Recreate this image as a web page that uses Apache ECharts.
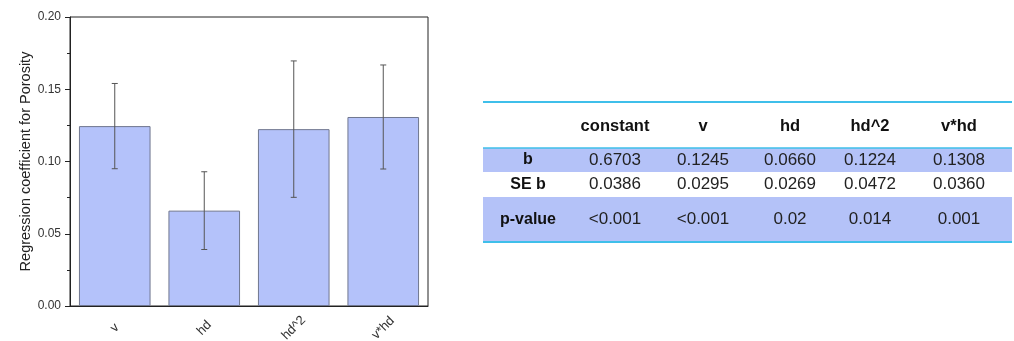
<!DOCTYPE html>
<html>
<head>
<meta charset="utf-8">
<script src="https://cdn.jsdelivr.net/npm/echarts@6/dist/echarts.min.js"></script>
<style>
  html, body { margin: 0; padding: 0; background: #fff; }
  #chart { width: 1014px; height: 341px; }
</style>
</head>
<body>
<div id="chart"></div>
<script>
// Regression terms and their coefficient statistics
const terms = ['constant', 'v', 'hd', 'hd^2', 'v*hd'];
const coefB = [0.6703, 0.1245, 0.0660, 0.1224, 0.1308];
const coefSE = [0.0386, 0.0295, 0.0269, 0.0472, 0.0360];
const pValues = ['<0.001', '<0.001', '0.02', '0.014', '0.001'];
const rowLabels = ['b', 'SE b', 'p-value'];
const yTicks = [0, 0.05, 0.10, 0.15, 0.20];

// The bar chart shows the non-constant terms
const barCats = terms.slice(1);
const barVals = coefB.slice(1);
const barErr = coefSE.slice(1);

const FONT = '"Liberation Sans", Arial, sans-serif';
const barFill = '#b4c2fa';
const bandFill = '#b4c2f8';
const ruleColor = '#3fbfea';

// ---- table layout ----
const tbl = {
  x0: 483, x1: 1012,
  top: 102, headY: 126, headBottom: 148,
  rows: [
    { y0: 148, y1: 172, fill: true },
    { y0: 172, y1: 197, fill: false },
    { y0: 197, y1: 242, fill: true }
  ],
  labelX: 528,
  colX: [615, 703, 790, 870, 959]
};

const tableCells = [coefB.map(v => v.toFixed(4)), coefSE.map(v => v.toFixed(4)), pValues];

const graphics = [];
tbl.rows.forEach(r => {
  if (r.fill) {
    graphics.push({ type: 'rect', silent: true, shape: { x: tbl.x0, y: r.y0, width: tbl.x1 - tbl.x0, height: r.y1 - r.y0 }, style: { fill: bandFill } });
  }
});
graphics.push({ type: 'line', shape: { x1: tbl.x0, y1: tbl.top, x2: tbl.x1, y2: tbl.top }, style: { stroke: ruleColor, lineWidth: 2 } });
graphics.push({ type: 'line', shape: { x1: tbl.x0, y1: tbl.headBottom, x2: tbl.x1, y2: tbl.headBottom }, style: { stroke: ruleColor, lineWidth: 1.5 } });
graphics.push({ type: 'line', shape: { x1: tbl.x0, y1: 242, x2: tbl.x1, y2: 242 }, style: { stroke: ruleColor, lineWidth: 2 } });
terms.forEach((t, i) => {
  graphics.push({ type: 'text', x: tbl.colX[i], y: tbl.headY, style: { text: t, font: 'bold 16.5px ' + FONT, fill: '#111', align: 'center', verticalAlign: 'middle' } });
});
rowLabels.forEach((lab, r) => {
  const row = tbl.rows[r];
  const cy = (row.y0 + row.y1) / 2;
  graphics.push({ type: 'text', x: tbl.labelX, y: cy, style: { text: lab, font: 'bold 16px ' + FONT, fill: '#111', align: 'center', verticalAlign: 'middle' } });
  tableCells[r].forEach((val, i) => {
    graphics.push({ type: 'text', x: tbl.colX[i], y: cy, style: { text: val, font: '17px ' + FONT, fill: '#222', align: 'center', verticalAlign: 'middle' } });
  });
});

const chart = echarts.init(document.getElementById('chart'), null, { renderer: 'canvas' });

chart.setOption({
  animation: false,
  backgroundColor: '#fff',
  grid: { left: 70, right: 586, top: 17, bottom: 35, outerBoundsMode: 'none', containLabel: false, show: true, borderColor: '#222', borderWidth: 1, backgroundColor: 'transparent' },
  xAxis: {
    type: 'category',
    data: barCats,
    axisLine: { lineStyle: { color: '#222', width: 1 } },
    axisTick: { alignWithLabel: true, length: 5, lineStyle: { color: '#222' } },
    axisLabel: { rotate: 45, align: 'center', verticalAlign: 'middle', margin: 22, fontSize: 13, color: '#333', fontFamily: FONT }
  },
  yAxis: {
    type: 'value',
    min: yTicks[0],
    max: yTicks[yTicks.length - 1],
    interval: 0.05,
    name: 'Regression coefficient for Porosity',
    nameLocation: 'middle',
    nameGap: 36,
    nameTextStyle: { fontSize: 14.5, color: '#222', fontFamily: FONT },
    axisLine: { show: true, lineStyle: { color: '#222', width: 1 } },
    axisTick: { show: true, length: 5, lineStyle: { color: '#222' } },
    minorTick: { show: true, splitNumber: 2, length: 3, lineStyle: { color: '#222' } },
    splitLine: { show: false },
    axisLabel: { fontSize: 12, color: '#333', margin: 9, fontFamily: FONT, formatter: v => v.toFixed(2) }
  },
  series: [
    {
      type: 'bar',
      data: barVals,
      barWidth: '80%',
      itemStyle: { color: barFill, borderColor: '#70778f', borderWidth: 1 },
      z: 2
    },
    {
      type: 'custom',
      data: barVals.map((v, i) => [i, v - barErr[i], v + barErr[i]]),
      z: 3,
      renderItem: (params, api) => {
        const lo = api.coord([api.value(0), api.value(1)]);
        const hi = api.coord([api.value(0), api.value(2)]);
        const cap = 3;
        const st = { stroke: '#555', lineWidth: 1, fill: null };
        return {
          type: 'group',
          children: [
            { type: 'line', shape: { x1: hi[0], y1: hi[1], x2: lo[0], y2: lo[1] }, style: st },
            { type: 'line', shape: { x1: hi[0] - cap, y1: hi[1], x2: hi[0] + cap, y2: hi[1] }, style: st },
            { type: 'line', shape: { x1: lo[0] - cap, y1: lo[1], x2: lo[0] + cap, y2: lo[1] }, style: st }
          ]
        };
      }
    }
  ],
  graphic: graphics
});
</script>
</body>
</html>
